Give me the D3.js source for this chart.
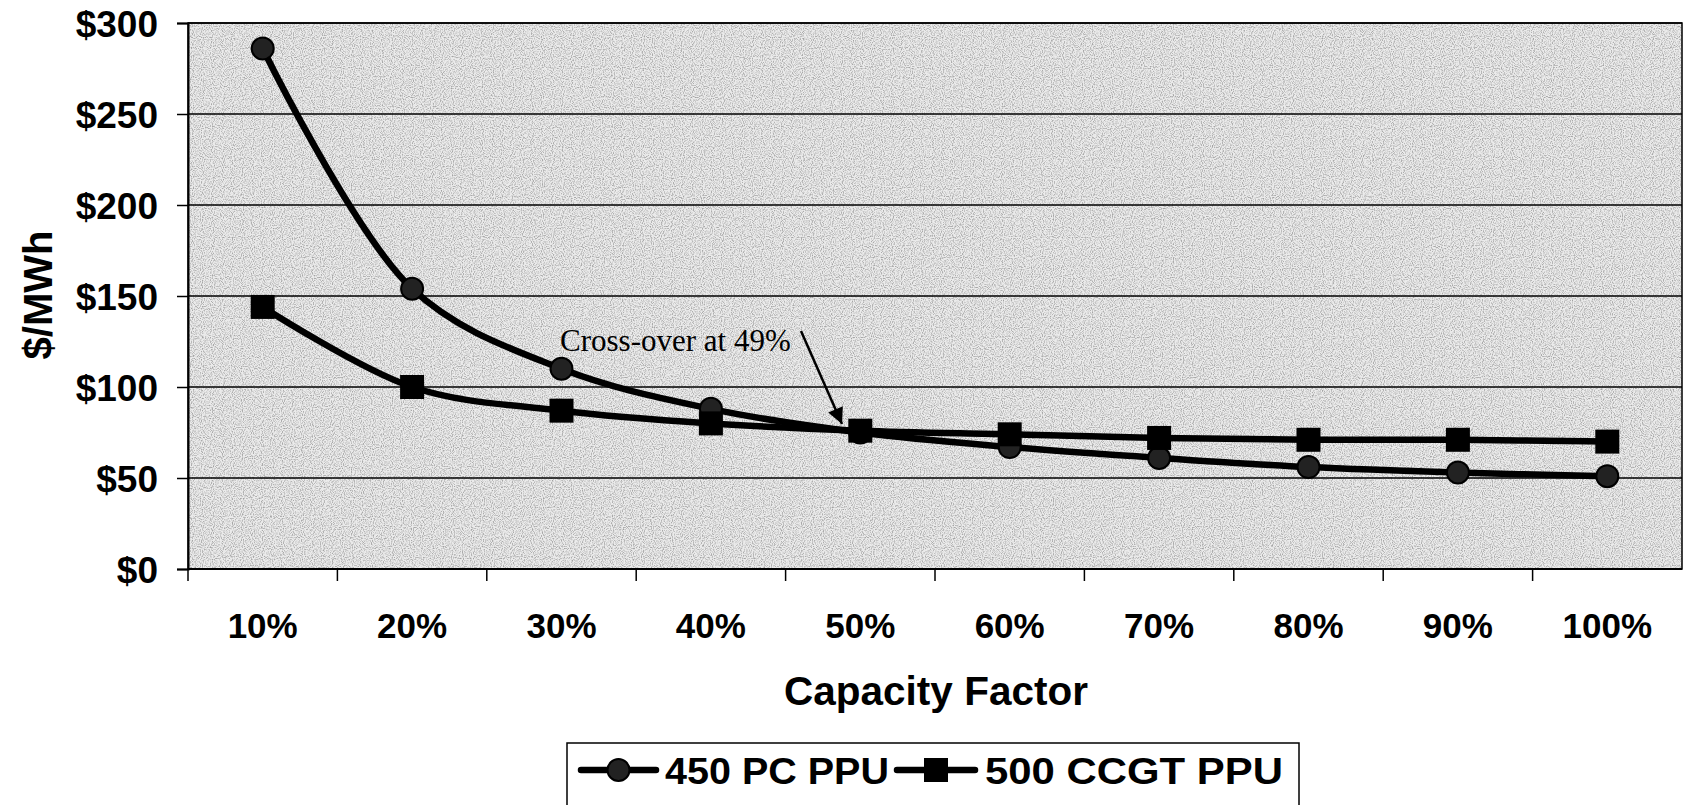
<!DOCTYPE html>
<html>
<head>
<meta charset="utf-8">
<script src="https://cdn.jsdelivr.net/npm/d3@7"></script>
<style>
  body { margin: 0; background: #fff; }
  text { font-family: "Liberation Sans", Arial, sans-serif; font-weight: bold; fill: #000; }
</style>
</head>
<body>
<div id="chart"></div>
<script>
var categories = ["10%", "20%", "30%", "40%", "50%", "60%", "70%", "80%", "90%", "100%"];
var pcValues = [286, 154, 110, 88, 75, 67, 61, 56, 53, 51];
var ccgtValues = [144, 100, 87, 80, 76, 74, 72, 71, 71, 70];
var yTicks = [0, 50, 100, 150, 200, 250, 300];
var seriesNames = ["450 PC PPU", "500 CCGT PPU"];

var width = 1683, height = 805;
var margin = {top: 23, right: 1, bottom: 236, left: 188};

var svg = d3.select("#chart").append("svg")
    .attr("width", width)
    .attr("height", height);

var plotW = width - margin.left - margin.right,
    plotH = height - margin.top - margin.bottom;

var x = d3.scaleBand().domain(categories).range([0, plotW]);
var y = d3.scaleLinear().domain([0, 300]).range([plotH, 0]);

var defs = svg.append("defs");
defs.append("marker")
    .attr("id", "arrow")
    .attr("viewBox", "0 0 10 10")
    .attr("refX", 10).attr("refY", 5)
    .attr("markerWidth", 22).attr("markerHeight", 16)
    .attr("markerUnits", "userSpaceOnUse")
    .attr("orient", "auto")
  .append("path")
    .attr("d", "M0,0 L10,5 L0,10 Z")
    .attr("fill", "#000");

// speckled grey like the scanned fill
var speckle = defs.append("filter").attr("id", "speckle")
    .attr("x", 0).attr("y", 0).attr("width", 1).attr("height", 1);
speckle.append("feTurbulence")
    .attr("type", "fractalNoise").attr("baseFrequency", 0.9)
    .attr("numOctaves", 1).attr("seed", 3).attr("result", "noise");
speckle.append("feColorMatrix")
    .attr("in", "noise").attr("type", "matrix")
    .attr("values", "0 0 0 0 0  0 0 0 0 0  0 0 0 0 0  3 0 0 0 -1.3")
    .attr("result", "dots");
speckle.append("feComposite")
    .attr("in", "dots").attr("in2", "SourceGraphic").attr("operator", "in");

var g = svg.append("g").attr("transform", "translate(" + margin.left + "," + margin.top + ")");

// plot background
g.append("rect")
    .attr("width", plotW)
    .attr("height", plotH)
    .attr("fill", "#ebebeb");
g.append("rect")
    .attr("width", plotW)
    .attr("height", plotH)
    .attr("fill", "#000")
    .attr("opacity", 0.3)
    .attr("filter", "url(#speckle)");
g.append("rect")
    .attr("width", plotW)
    .attr("height", plotH)
    .attr("fill", "none")
    .attr("stroke", "#000")
    .attr("stroke-width", 1.5);

// gridlines
g.selectAll(".grid").data(yTicks).enter().append("line")
    .attr("x1", 0).attr("x2", plotW)
    .attr("y1", function(d) { return y(d); })
    .attr("y2", function(d) { return y(d); })
    .attr("stroke", "#000")
    .attr("stroke-width", 1.3);

// y axis
var yAxis = g.append("g")
    .call(d3.axisLeft(y).tickValues(yTicks).tickSize(11).tickPadding(19)
      .tickFormat(function(d) { return "$" + d; }));
yAxis.select(".domain").attr("stroke-width", 2);
yAxis.selectAll("line").attr("stroke-width", 1.5);
yAxis.selectAll("text").style("font-size", "37px").attr("dy", "0.36em");

// x axis: ticks at band boundaries, labels at centres
var xAxis = g.append("g").attr("transform", "translate(0," + plotH + ")");
xAxis.append("line")
    .attr("x1", 0).attr("x2", plotW)
    .attr("stroke", "#000").attr("stroke-width", 2);
xAxis.selectAll(".tick").data(categories).enter().append("line")
    .attr("x1", function(d) { return x(d); })
    .attr("x2", function(d) { return x(d); })
    .attr("y1", 0).attr("y2", 12)
    .attr("stroke", "#000").attr("stroke-width", 1.5);
xAxis.selectAll(".lab").data(categories).enter().append("text")
    .attr("x", function(d) { return x(d) + x.bandwidth() / 2; })
    .attr("y", 69)
    .attr("text-anchor", "middle")
    .style("font-size", "35px")
    .text(function(d) { return d; });

// lines
var line = d3.line()
    .x(function(d, i) { return x(categories[i]) + x.bandwidth() / 2; })
    .y(function(d) { return y(d); })
    .curve(d3.curveCatmullRom.alpha(0.5));

g.append("path").datum(pcValues)
    .attr("d", line)
    .attr("fill", "none").attr("stroke", "#000").attr("stroke-width", 6.5);
g.append("path").datum(ccgtValues)
    .attr("d", line)
    .attr("fill", "none").attr("stroke", "#000").attr("stroke-width", 6.5);

g.selectAll(".pc").data(pcValues).enter().append("circle")
    .attr("cx", function(d, i) { return x(categories[i]) + x.bandwidth() / 2; })
    .attr("cy", function(d) { return y(d); })
    .attr("r", 11)
    .attr("fill", "#222").attr("stroke", "#000").attr("stroke-width", 2);

g.selectAll(".ccgt").data(ccgtValues).enter().append("rect")
    .attr("x", function(d, i) { return x(categories[i]) + x.bandwidth() / 2 - 12; })
    .attr("y", function(d) { return y(d) - 12; })
    .attr("width", 24).attr("height", 24)
    .attr("fill", "#000");

// annotation
g.append("text")
    .attr("x", 560 - margin.left)
    .attr("y", 351 - margin.top)
    .style("font-family", "'Liberation Serif', 'Times New Roman', serif")
    .style("font-weight", "normal")
    .style("font-size", "31px")
    .text("Cross-over at 49%");
g.append("line")
    .attr("x1", 801 - margin.left).attr("y1", 331 - margin.top)
    .attr("x2", 842 - margin.left).attr("y2", 424 - margin.top)
    .attr("stroke", "#000").attr("stroke-width", 2.5)
    .attr("marker-end", "url(#arrow)");

// axis titles
svg.append("text")
    .attr("x", 936).attr("y", 705)
    .attr("text-anchor", "middle")
    .style("font-size", "40.5px")
    .text("Capacity Factor");

svg.append("text")
    .attr("transform", "translate(52,295) rotate(-90)")
    .attr("text-anchor", "middle")
    .style("font-size", "40px")
    .text("$/MWh");

// legend
var legend = svg.append("g");
legend.append("rect")
    .attr("x", 567).attr("y", 743)
    .attr("width", 732).attr("height", 80)
    .attr("fill", "#fff").attr("stroke", "#000").attr("stroke-width", 1.5);

var legendItems = [
  {name: seriesNames[0], x0: 581, x1: 656, tx: 665, tw: 224, shape: "circle"},
  {name: seriesNames[1], x0: 897, x1: 975, tx: 985, tw: 298, shape: "square"}
];
legendItems.forEach(function(it) {
  var cx = (it.x0 + it.x1) / 2;
  legend.append("line")
      .attr("x1", it.x0).attr("x2", it.x1)
      .attr("y1", 770).attr("y2", 770)
      .attr("stroke", "#000").attr("stroke-width", 6.5)
      .attr("stroke-linecap", "round");
  if (it.shape === "circle") {
    legend.append("circle").attr("cx", cx).attr("cy", 770).attr("r", 11)
        .attr("fill", "#222").attr("stroke", "#000").attr("stroke-width", 2);
  } else {
    legend.append("rect").attr("x", cx - 12).attr("y", 758)
        .attr("width", 24).attr("height", 24).attr("fill", "#000");
  }
  legend.append("text")
      .attr("x", it.tx).attr("y", 784)
      .attr("textLength", it.tw)
      .attr("lengthAdjust", "spacingAndGlyphs")
      .style("font-size", "37px")
      .text(it.name);
});
</script>
</body>
</html>
